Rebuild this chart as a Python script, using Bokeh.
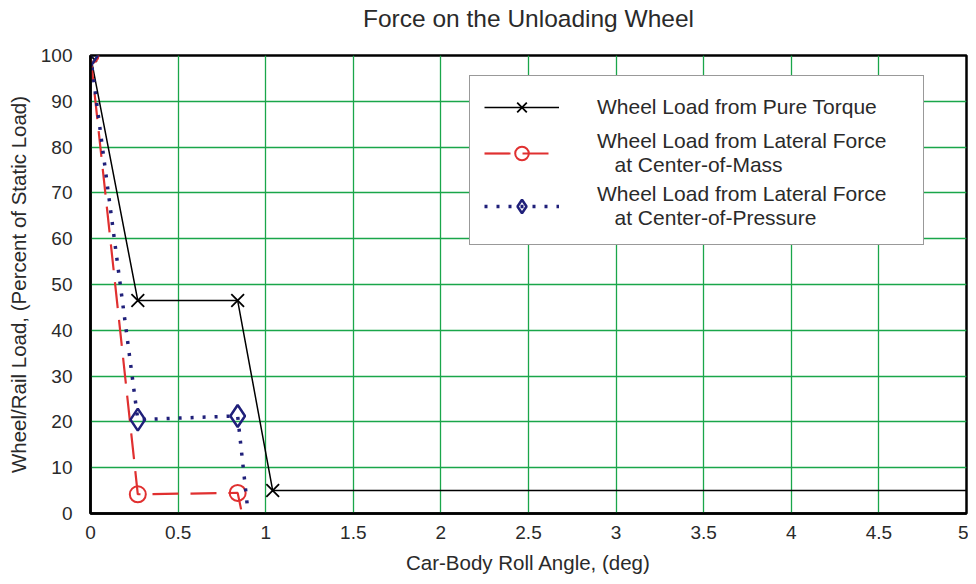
from bokeh.plotting import figure
from bokeh.models import Range1d, FixedTicker, Legend, LegendItem, Title
from bokeh.embed import file_html
from bokeh.resources import INLINE

# Data
angle_torque = [0.0, 0.27, 0.84, 1.04, 5.0]
load_torque = [100, 46.5, 46.5, 5, 5]
mk_angle_torque = [0.0, 0.27, 0.84, 1.04]
mk_load_torque = [100, 46.5, 46.5, 5]

angle_mass = [0.0, 0.27, 0.84, 0.87]
load_mass = [100, 4.2, 4.5, -1]
mk_angle_mass = [0.0, 0.27, 0.84]
mk_load_mass = [100, 4.2, 4.5]

angle_press = [0.0, 0.27, 0.84, 0.9]
load_press = [100, 20.5, 21.3, 0]
mk_angle_press = [0.0, 0.27, 0.84]
mk_load_press = [100, 20.5, 21.3]

x_ticks = [0, 0.5, 1, 1.5, 2, 2.5, 3, 3.5, 4, 4.5, 5]
y_ticks = [0, 10, 20, 30, 40, 50, 60, 70, 80, 90, 100]
title_text = "Force on the Unloading Wheel"

FONT = "Liberation Sans"
GRID = "#1aa64a"
TXT = "#2a2a2a"

p = figure(width=968, height=576, output_backend="svg", toolbar_location=None,
           x_range=Range1d(0, 5), y_range=Range1d(0, 100),
           title=title_text,
           min_border_left=90, min_border_right=2, min_border_top=0, min_border_bottom=61)

p.title.align = "center"
p.title.text_font = FONT
p.title.text_font_size = "24.5px"
p.title.text_font_style = "normal"
p.title.text_color = TXT
p.title.offset = 0
p.title.standoff = 4

# blank spacer between title and frame
spacer = Title(text=" ", text_font_size="12px", standoff=6)
p.add_layout(spacer, "above")

p.outline_line_color = "black"
p.outline_line_width = 2.5

p.xaxis.ticker = FixedTicker(ticks=x_ticks)
p.yaxis.ticker = FixedTicker(ticks=y_ticks)
for ax in (p.xaxis[0], p.yaxis[0]):
    ax.major_tick_line_color = None
    ax.minor_tick_line_color = None
    ax.axis_line_color = "black"
    ax.axis_line_width = 2.5
    ax.major_label_text_font = FONT
    ax.major_label_text_font_size = "19px"
    ax.major_label_text_color = TXT
    ax.axis_label_text_font = FONT
    ax.axis_label_text_font_size = "20.5px"
    ax.axis_label_text_font_style = "normal"
    ax.axis_label_text_color = TXT
p.xaxis.major_label_standoff = 6
p.yaxis.major_label_standoff = 12
p.xaxis.axis_label = "Car-Body Roll Angle, (deg)"
p.yaxis.axis_label = "Wheel/Rail Load, (Percent of Static Load)"
p.xaxis.axis_label_standoff = 9
p.yaxis.axis_label_standoff = 8

p.xgrid.grid_line_color = GRID
p.ygrid.grid_line_color = GRID
p.xgrid.grid_line_width = 1.3
p.ygrid.grid_line_width = 1.3

# Series
l1 = p.line(angle_torque, load_torque, line_color="black", line_width=1.5)
m1 = p.scatter(mk_angle_torque, mk_load_torque, marker="x", size=18, line_color="black",
               line_width=1.8)

l2 = p.line(angle_mass, load_mass, line_color="#e03030", line_width=2.2, line_dash="26 12")
m2 = p.scatter(mk_angle_mass, mk_load_mass, marker="circle", size=16, line_color="#e03030",
               fill_color=None, line_width=2)

l3 = p.line(angle_press, load_press, line_color="#20207a", line_width=3.5, line_dash="3 9")
m3 = p.scatter(mk_angle_press, mk_load_press, marker="diamond", size=22, line_color="#20207a",
               fill_color=None, line_width=2.5)

legend = Legend(items=[
    LegendItem(label="Wheel Load from Pure Torque", renderers=[l1, m1]),
    LegendItem(label="Wheel Load from Lateral Force\n   at Center-of-Mass", renderers=[l2, m2]),
    LegendItem(label="Wheel Load from Lateral Force\n   at Center-of-Pressure", renderers=[l3, m3]),
], location=(379, 268))
legend.label_text_font = FONT
legend.label_text_font_size = "21px"
legend.label_text_color = TXT
legend.label_text_line_height = 0.95
legend.glyph_width = 75
legend.glyph_height = 34
legend.label_standoff = 38
legend.label_width = 312
legend.padding = 14
legend.spacing = 5
legend.margin = 0
legend.border_line_color = "#333333"
legend.border_line_width = 1.5
legend.background_fill_alpha = 1
p.add_layout(legend, "center")

open("out.html", "w").write(file_html(p, INLINE))
